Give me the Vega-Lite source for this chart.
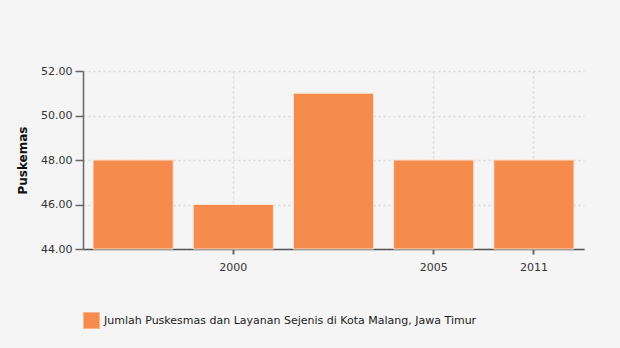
{
  "$schema": "https://vega.github.io/schema/vega-lite/v6.json",
  "autosize": "none",
  "width": 501,
  "height": 178,
  "padding": {"left": 83, "top": 71, "right": 36, "bottom": 99},
  "background": "#f5f5f5",
  "data": {"values": [
    {"tahun": "1999", "jumlah": 48, "seri": "Jumlah Puskesmas dan Layanan Sejenis di Kota Malang, Jawa Timur"},
    {"tahun": "2000", "jumlah": 46, "seri": "Jumlah Puskesmas dan Layanan Sejenis di Kota Malang, Jawa Timur"},
    {"tahun": "2004", "jumlah": 51, "seri": "Jumlah Puskesmas dan Layanan Sejenis di Kota Malang, Jawa Timur"},
    {"tahun": "2005", "jumlah": 48, "seri": "Jumlah Puskesmas dan Layanan Sejenis di Kota Malang, Jawa Timur"},
    {"tahun": "2011", "jumlah": 48, "seri": "Jumlah Puskesmas dan Layanan Sejenis di Kota Malang, Jawa Timur"}
  ]},
  "mark": {"type": "bar", "stroke": "#fbe3d3", "strokeWidth": 1},
  "encoding": {
    "x": {
      "field": "tahun", "type": "ordinal", "sort": null,
      "scale": {"paddingInner": 0.2, "paddingOuter": 0.1},
      "axis": {
        "title": null, "values": ["2000", "2005", "2011"], "labelAngle": 0,
        "labelFont": "DejaVu Sans", "labelFontSize": 11, "labelColor": "#333", "labelPadding": 7,
        "domainColor": "#555", "domainWidth": 1.5, "tickColor": "#666", "tickSize": 5, "tickWidth": 2,
        "grid": true, "gridColor": "#d8d8d8", "gridDash": [2, 3], "gridWidth": 1.5
      }
    },
    "y": {
      "field": "jumlah", "type": "quantitative",
      "scale": {"domain": [44, 52], "zero": false, "nice": false},
      "axis": {
        "title": "Puskemas", "titleFont": "DejaVu Sans", "titleFontSize": 12, "titleFontWeight": "bold",
        "titleColor": "#111", "titlePadding": 11,
        "values": [44, 46, 48, 50, 52], "format": ".2f",
        "labelFont": "DejaVu Sans", "labelFontSize": 11, "labelColor": "#333", "labelPadding": 3,
        "domainColor": "#666", "domainWidth": 1.5, "tickColor": "#666", "tickSize": 8, "tickWidth": 1.5,
        "grid": true, "gridColor": "#d8d8d8", "gridDash": [2, 3], "gridWidth": 1.5
      }
    },
    "y2": {"datum": 44},
    "color": {
      "field": "seri", "type": "nominal",
      "scale": {"range": ["#f58b4c"]},
      "legend": {
        "title": null, "orient": "none", "legendX": 0, "legendY": 241,
        "symbolType": "square", "symbolSize": 256, "symbolStrokeColor": "#f9b48a", "symbolStrokeWidth": 1,
        "labelFont": "DejaVu Sans", "labelFontSize": 11, "labelColor": "#222", "labelLimit": 600, "labelOffset": 4
      }
    }
  },
  "config": {"view": {"stroke": null}}
}
